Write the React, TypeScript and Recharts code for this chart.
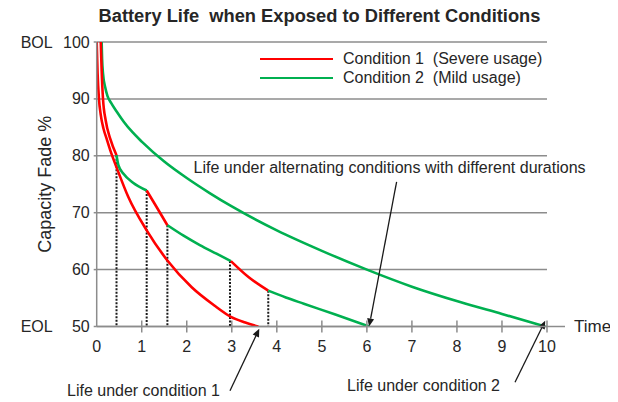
import React from 'react';
import { LineChart, Line, XAxis, YAxis, CartesianGrid, ReferenceLine, Label } from 'recharts';

type Pt = { t: number; v: number };
const mk = (t: number[], v: number[]): Pt[] => t.map((x, i) => ({ t: x, v: v[i] }));

const X_TICKS = [0, 1, 2, 3, 4, 5, 6, 7, 8, 9, 10];
const Y_TICKS = [50, 60, 70, 80, 90, 100];
const Y_PREFIX: Record<number, string> = { 100: 'BOL', 50: 'EOL' };

const TITLE = 'Battery Life  when Exposed to Different Conditions';
const LEGEND_NAMES = ['Condition 1  (Severe usage)', 'Condition 2  (Mild usage)'];

const RED = '#ff0000';
const GREEN = '#00b050';

// Condition 1 (severe usage), full life
const C1_T = [0, 0.02, 0.05, 0.09, 0.15, 0.22, 0.3, 0.44, 0.7, 1.11, 1.57, 2.11, 2.63, 2.98, 3.3, 3.59];
const C1_V = [100, 94.5, 90, 87.2, 84.8, 83, 81, 78, 72.8, 66.9, 61.6, 56.9, 53.6, 51.7, 50.7, 50];

// Condition 2 (mild usage), full life
const C2_T = [0.11, 0.12, 0.14, 0.19, 0.24, 0.32, 0.45, 0.6, 0.8, 1.0, 1.5, 2.0, 2.5, 3.0, 4.0, 5.0, 6.0, 7.0, 8.07, 9.0, 9.96];
const C2_V = [100, 97, 94.5, 92, 90.5, 89.3, 87.7, 86.0, 84.1, 82.5, 79.0, 76.1, 73.5, 71.1, 66.9, 63.3, 60.0, 57.0, 54.3, 52.2, 50];

// Alternating conditions path
const ALT_R1_T = [0.09, 0.11, 0.14, 0.2, 0.3, 0.44];
const ALT_R1_V = [100, 95, 90, 86.2, 83, 80.1];
const ALT_G1_T = [0.44, 0.48, 0.6, 0.8, 1.11];
const ALT_G1_V = [80.1, 78.4, 76.8, 75.3, 73.9];
const ALT_R2_T = [1.11, 1.33, 1.57];
const ALT_R2_V = [73.9, 71, 67.8];
const ALT_G2_T = [1.57, 1.92, 2.29, 2.66, 2.98];
const ALT_G2_V = [67.8, 66.0, 64.3, 62.8, 61.5];
const ALT_R3_T = [2.98, 3.37, 3.81];
const ALT_R3_V = [61.5, 58.7, 56.3];
const ALT_G3_T = [3.81, 4.2, 4.6, 5.3, 6.05];
const ALT_G3_V = [56.3, 55.1, 54.0, 52.1, 50];

// Switch times (dotted drop lines)
const SWITCH_T = [0.44, 1.11, 1.57, 2.96, 3.81];
const SWITCH_V = [80.1, 73.9, 67.8, 61.5, 56.3];

// Annotations: tail (t,v) -> head (t,v)
const ANNOTATIONS = [
  { text: 'Life under alternating conditions with different durations', from: { t: 6.66, v: 75.4 }, to: { t: 6.05, v: 50 }, dx: -7, dy: -14, anchor: 'middle' },
  { text: 'Life under condition 1', from: { t: 2.96, v: 38.7 }, to: { t: 3.61, v: 49.6 }, dx: -10, dy: 0, anchor: 'end' },
  { text: 'Life under condition 2', from: { t: 9.29, v: 40.2 }, to: { t: 9.96, v: 51 }, dx: -15, dy: 3, anchor: 'end' },
];

const FONT = '"Liberation Sans", Arial, sans-serif';
const TEXT = '#262626';
const GRID = '#8c8c8c';

const series: { data: Pt[]; color: string }[] = [
  { data: mk(C1_T, C1_V), color: RED },
  { data: mk(C2_T, C2_V), color: GREEN },
  { data: mk(ALT_R1_T, ALT_R1_V), color: RED },
  { data: mk(ALT_G1_T, ALT_G1_V), color: GREEN },
  { data: mk(ALT_R2_T, ALT_R2_V), color: RED },
  { data: mk(ALT_G2_T, ALT_G2_V), color: GREEN },
  { data: mk(ALT_R3_T, ALT_R3_V), color: RED },
  { data: mk(ALT_G3_T, ALT_G3_V), color: GREEN },
];

const XTick = (props: any) => {
  const { x, y, payload } = props;
  return (
    <g>
      {payload.value !== 0 && <line x1={x} x2={x} y1={y - 6} y2={y + 6} stroke={GRID} strokeWidth={1.5} />}
      <text x={x} y={y + 20} textAnchor="middle" dominantBaseline="central" fontSize={16} fill={TEXT} fontFamily={FONT}>
        {payload.value}
      </text>
    </g>
  );
};

const YTick = (props: any) => {
  const { x, y, payload } = props;
  const pre = Y_PREFIX[payload.value];
  return (
    <g>
      <text x={x} y={y} textAnchor="end" dominantBaseline="central" fontSize={16} fill={TEXT} fontFamily={FONT}>
        {payload.value}
      </text>
      {pre && (
        <text x={x - 37} y={y} textAnchor="end" dominantBaseline="central" fontSize={16} fill={TEXT} fontFamily={FONT}>
          {pre}
        </text>
      )}
    </g>
  );
};

const arrowShape = (text: string, dx: number, dy: number, anchor: string) => (p: any) => {
  const { x1, y1, x2, y2 } = p;
  const ang = Math.atan2(y2 - y1, x2 - x1);
  const L = 8, W = 3.5;
  const bx = x2 - L * Math.cos(ang), by = y2 - L * Math.sin(ang);
  const px = -Math.sin(ang) * W, py = Math.cos(ang) * W;
  return (
    <g>
      <line x1={x1} y1={y1} x2={bx} y2={by} stroke="#1a1a1a" strokeWidth={1.3} />
      <polygon points={`${x2},${y2} ${bx + px},${by + py} ${bx - px},${by - py}`} fill="#1a1a1a" />
      <text x={x1 + dx} y={y1 + dy} textAnchor={anchor as any} dominantBaseline="central" fontSize={16} fill={TEXT} fontFamily={FONT}>
        {text}
      </text>
    </g>
  );
};

const axisExtShape = (p: any) => {
  const { x1, y1, x2, y2 } = p;
  return (
    <g>
      <line x1={x1} y1={y1} x2={x2} y2={y2} stroke={GRID} strokeWidth={1.5} />
      <text x={x2 + 9} y={y2} dominantBaseline="central" fontSize={17} fill={TEXT} fontFamily={FONT}>
        Time
      </text>
    </g>
  );
};

export default function App() {
  return (
    <div style={{ position: 'relative', width: 610, height: 394, fontFamily: FONT }}>
      <div
        style={{
          position: 'absolute',
          top: -3,
          left: 0,
          width: 623,
          textAlign: 'center',
          fontWeight: 'bold',
          fontSize: 18.3,
          lineHeight: '22px',
          color: TEXT,
          whiteSpace: 'pre',
          zIndex: 2,
        }}
      >
        {TITLE}
      </div>
      <div style={{ position: 'absolute', top: 41.5, left: 252, fontSize: 16, color: TEXT, zIndex: 2 }}>
        {LEGEND_NAMES.map((n, i) => (
          <div key={n} style={{ display: 'flex', alignItems: 'center', height: 19, whiteSpace: 'pre' }}>
            <span style={{ display: 'inline-block', width: 73, height: 2.5, background: i === 0 ? RED : GREEN, marginRight: 10 }} />
            <span>{n}</span>
          </div>
        ))}
      </div>
      <LineChart width={610} height={394} margin={{ top: 34, right: 71, left: 28.7, bottom: 45.5 }} style={{ overflow: 'visible' }}>
        <CartesianGrid horizontal vertical={false} stroke={GRID} strokeWidth={1.5} />
        <XAxis
          type="number"
          dataKey="t"
          domain={[0, 10]}
          ticks={X_TICKS}
          allowDataOverflow
          height={30}
          axisLine={{ stroke: GRID, strokeWidth: 1.5 }}
          tickLine={false}
          tickSize={0}
          tickMargin={0}
          tick={<XTick />}
          interval={0}
        />
        <YAxis
          type="number"
          dataKey="v"
          domain={[50, 100]}
          ticks={Y_TICKS}
          allowDataOverflow
          width={60}
          axisLine={{ stroke: GRID, strokeWidth: 1.5 }}
          tickLine={{ stroke: GRID, strokeWidth: 1.5 }}
          tickSize={3}
          tickMargin={4}
          tick={<YTick />}
          interval={0}
        >
          <Label
            value="Capacity Fade %"
            angle={-90}
            position="insideLeft"
            offset={7.5}
            style={{ textAnchor: 'middle', fontSize: 18, fill: TEXT, fontFamily: FONT }}
          />
        </YAxis>
        <ReferenceLine
          segment={[{ x: 10, y: 50 }, { x: 10.4, y: 50 }]}
          ifOverflow="visible"
          shape={axisExtShape}
        />
        {SWITCH_T.map((t, i) => (
          <ReferenceLine
            key={'sw' + i}
            segment={[{ x: t, y: SWITCH_V[i] }, { x: t, y: 50 }]}
            stroke="#1a1a1a"
            strokeWidth={2}
            strokeDasharray="2 1.5"
            ifOverflow="visible"
          />
        ))}
        {series.map((s, i) => (
          <Line
            key={'s' + i}
            data={s.data}
            dataKey="v"
            type="monotone"
            stroke={s.color}
            strokeWidth={2.6}
            dot={false}
            activeDot={false}
            isAnimationActive={false}
            legendType="none"
          />
        ))}
        {ANNOTATIONS.map((a, i) => (
          <ReferenceLine
            key={'an' + i}
            segment={[{ x: a.from.t, y: a.from.v }, { x: a.to.t, y: a.to.v }]}
            ifOverflow="visible"
            shape={arrowShape(a.text, a.dx, a.dy, a.anchor)}
          />
        ))}
      </LineChart>
    </div>
  );
}
